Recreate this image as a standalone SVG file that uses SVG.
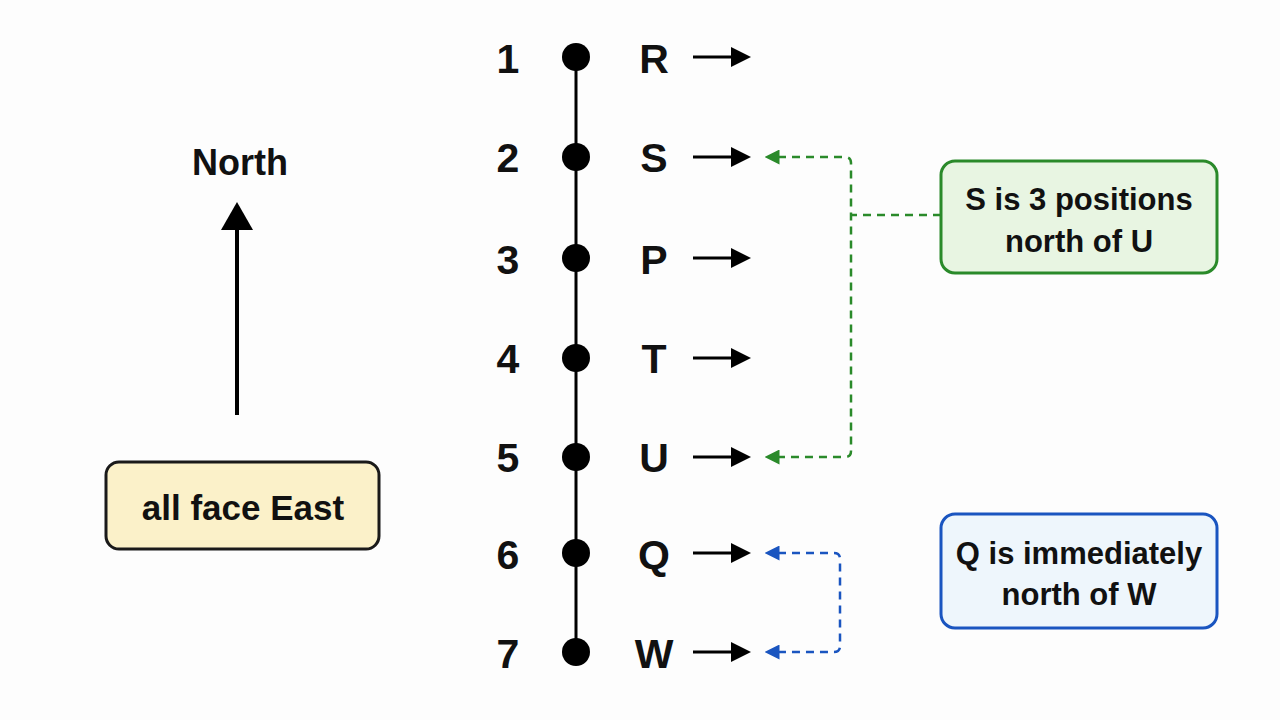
<svg xmlns="http://www.w3.org/2000/svg" width="1280" height="720" viewBox="0 0 1280 720">
<defs>
<style>
.t{font-family:"Liberation Sans",Arial,sans-serif;font-weight:bold;fill:#111;text-anchor:middle}
.num{font-size:41px}
.let{font-size:41px}
.box{font-size:31px}
.dot{fill:#000}
.ea{stroke:#000;stroke-width:3;fill:none}
.eh{fill:#000}
.g{stroke:#2a8a2a;stroke-width:2.5;fill:none;stroke-dasharray:8 6}
.b{stroke:#1a55c0;stroke-width:2.5;fill:none;stroke-dasharray:8 6}
</style>
<marker id="gh" viewBox="0 0 10 10" refX="1" refY="5" markerWidth="6" markerHeight="6" markerUnits="strokeWidth" orient="auto-start-reverse"><path d="M0,0 L10,5 L0,10 z" fill="#2a8a2a"/></marker>
<marker id="bh" viewBox="0 0 10 10" refX="1" refY="5" markerWidth="6" markerHeight="6" markerUnits="strokeWidth" orient="auto-start-reverse"><path d="M0,0 L10,5 L0,10 z" fill="#1a55c0"/></marker>
</defs>
<rect width="1280" height="720" fill="#fdfdfd"/>

<g id="north">
<line x1="237" y1="415" x2="237" y2="228" stroke="#000" stroke-width="4"/>
<path d="M221,230 L237,202 L253,230 z" fill="#000"/>
<text class="t" x="240" y="175" font-size="36">North</text>
</g>

<g id="all-face-east">
<rect x="106" y="462" width="273" height="87" rx="13" fill="#fbf1c9" stroke="#1a1a1a" stroke-width="3"/>
<text class="t" x="243" y="520" font-size="35">all face East</text>
</g>

<g id="spine">
<line x1="576" y1="57" x2="576" y2="652" stroke="#000" stroke-width="3"/>
</g>

<g id="pos1"><text class="t num" x="508" y="73">1</text><circle class="dot" cx="576" cy="57" r="14"/><text class="t let" x="654" y="73">R</text><line class="ea" x1="693" y1="57" x2="735" y2="57"/><path class="eh" d="M731,47 L751,57 L731,67 z"/></g>
<g id="pos2"><text class="t num" x="508" y="172">2</text><circle class="dot" cx="576" cy="157" r="14"/><text class="t let" x="654" y="172">S</text><line class="ea" x1="693" y1="157" x2="735" y2="157"/><path class="eh" d="M731,147 L751,157 L731,167 z"/></g>
<g id="pos3"><text class="t num" x="508" y="274">3</text><circle class="dot" cx="576" cy="258" r="14"/><text class="t let" x="654" y="274">P</text><line class="ea" x1="693" y1="258" x2="735" y2="258"/><path class="eh" d="M731,248 L751,258 L731,268 z"/></g>
<g id="pos4"><text class="t num" x="508" y="373">4</text><circle class="dot" cx="576" cy="358" r="14"/><text class="t let" x="654" y="373">T</text><line class="ea" x1="693" y1="358" x2="735" y2="358"/><path class="eh" d="M731,348 L751,358 L731,368 z"/></g>
<g id="pos5"><text class="t num" x="508" y="472">5</text><circle class="dot" cx="576" cy="457" r="14"/><text class="t let" x="654" y="472">U</text><line class="ea" x1="693" y1="457" x2="735" y2="457"/><path class="eh" d="M731,447 L751,457 L731,467 z"/></g>
<g id="pos6"><text class="t num" x="508" y="569">6</text><circle class="dot" cx="576" cy="553" r="14"/><text class="t let" x="654" y="569">Q</text><line class="ea" x1="693" y1="553" x2="735" y2="553"/><path class="eh" d="M731,543 L751,553 L731,563 z"/></g>
<g id="pos7"><text class="t num" x="508" y="668">7</text><circle class="dot" cx="576" cy="652" r="14"/><text class="t let" x="654" y="668">W</text><line class="ea" x1="693" y1="652" x2="735" y2="652"/><path class="eh" d="M731,642 L751,652 L731,662 z"/></g>

<g id="connectors">
<path class="g" d="M778,157 H845 Q851,157 851,163 V451 Q851,457 845,457 H778" marker-start="url(#gh)" marker-end="url(#gh)"/>
<path class="g" d="M941,215 H851"/>
<path class="b" d="M778,553 H834 Q840,553 840,559 V646 Q840,652 834,652 H778" marker-start="url(#bh)" marker-end="url(#bh)"/>
</g>

<g id="note-su">
<rect x="941" y="161" width="276" height="112" rx="14" fill="#e8f5e2" stroke="#2a8a2a" stroke-width="3"/>
<text class="t box" x="1079" y="210">S is 3 positions</text>
<text class="t box" x="1079" y="252">north of U</text>
</g>

<g id="note-qw">
<rect x="941" y="514" width="276" height="114" rx="14" fill="#eef6fc" stroke="#1a55c0" stroke-width="3"/>
<text class="t box" x="1079" y="564">Q is immediately</text>
<text class="t box" x="1079" y="605">north of W</text>
</g>
</svg>
